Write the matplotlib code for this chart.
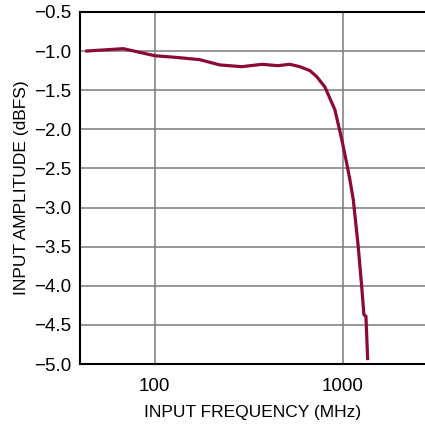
import matplotlib.pyplot as plt
from matplotlib.ticker import FixedLocator, NullLocator

# Data
freq = [43.5, 68, 100, 128, 173, 222, 290, 371, 451, 522, 590, 667, 727, 802,
        906, 988, 1038, 1090, 1135, 1206, 1257, 1293, 1325, 1353]
amplitude = [-1.0, -0.97, -1.06, -1.08, -1.11, -1.178, -1.20, -1.17, -1.187, -1.17,
             -1.20, -1.25, -1.33, -1.46, -1.75, -2.14, -2.39, -2.65, -2.90, -3.5,
             -4.0, -4.37, -4.39, -4.93]
x_ticks = [100, 1000]
y_ticks = [-0.5, -1.0, -1.5, -2.0, -2.5, -3.0, -3.5, -4.0, -4.5, -5.0]

plt.rcParams['font.family'] = ['Liberation Sans', 'DejaVu Sans']

fig = plt.figure(figsize=(4.25, 4.25), dpi=100)
ax = fig.add_axes([0.188, 0.1435, 0.812, 0.8285])

ax.plot(freq, amplitude, color='#8b0a33', linewidth=2.3, solid_joinstyle='round')

ax.set_xscale('log')
ax.set_xlim(40, 2730)
ax.set_ylim(-5.0, -0.5)
ax.xaxis.set_major_locator(FixedLocator(x_ticks))
ax.xaxis.set_minor_locator(NullLocator())
ax.set_xticklabels([str(t) for t in x_ticks])
ax.set_yticks(y_ticks)
ax.set_yticklabels([f'\u2212{abs(t):.1f}' for t in y_ticks])
ax.tick_params(length=0, labelsize=13.5)
ax.tick_params(axis='x', pad=10)
ax.tick_params(axis='y', pad=6)

ax.grid(True, color='#7a7a7a', linewidth=1.1)
ax.set_axisbelow(True)
for s in ['left', 'bottom', 'top']:
    ax.spines[s].set_linewidth(1.5)
ax.spines['right'].set_visible(False)

ax.set_xlabel('INPUT FREQUENCY (MHz)', fontsize=12.5, labelpad=7)
ax.set_ylabel('INPUT AMPLITUDE (dBFS)', fontsize=12.5, labelpad=4)

fig.savefig('out.png', dpi=100)
